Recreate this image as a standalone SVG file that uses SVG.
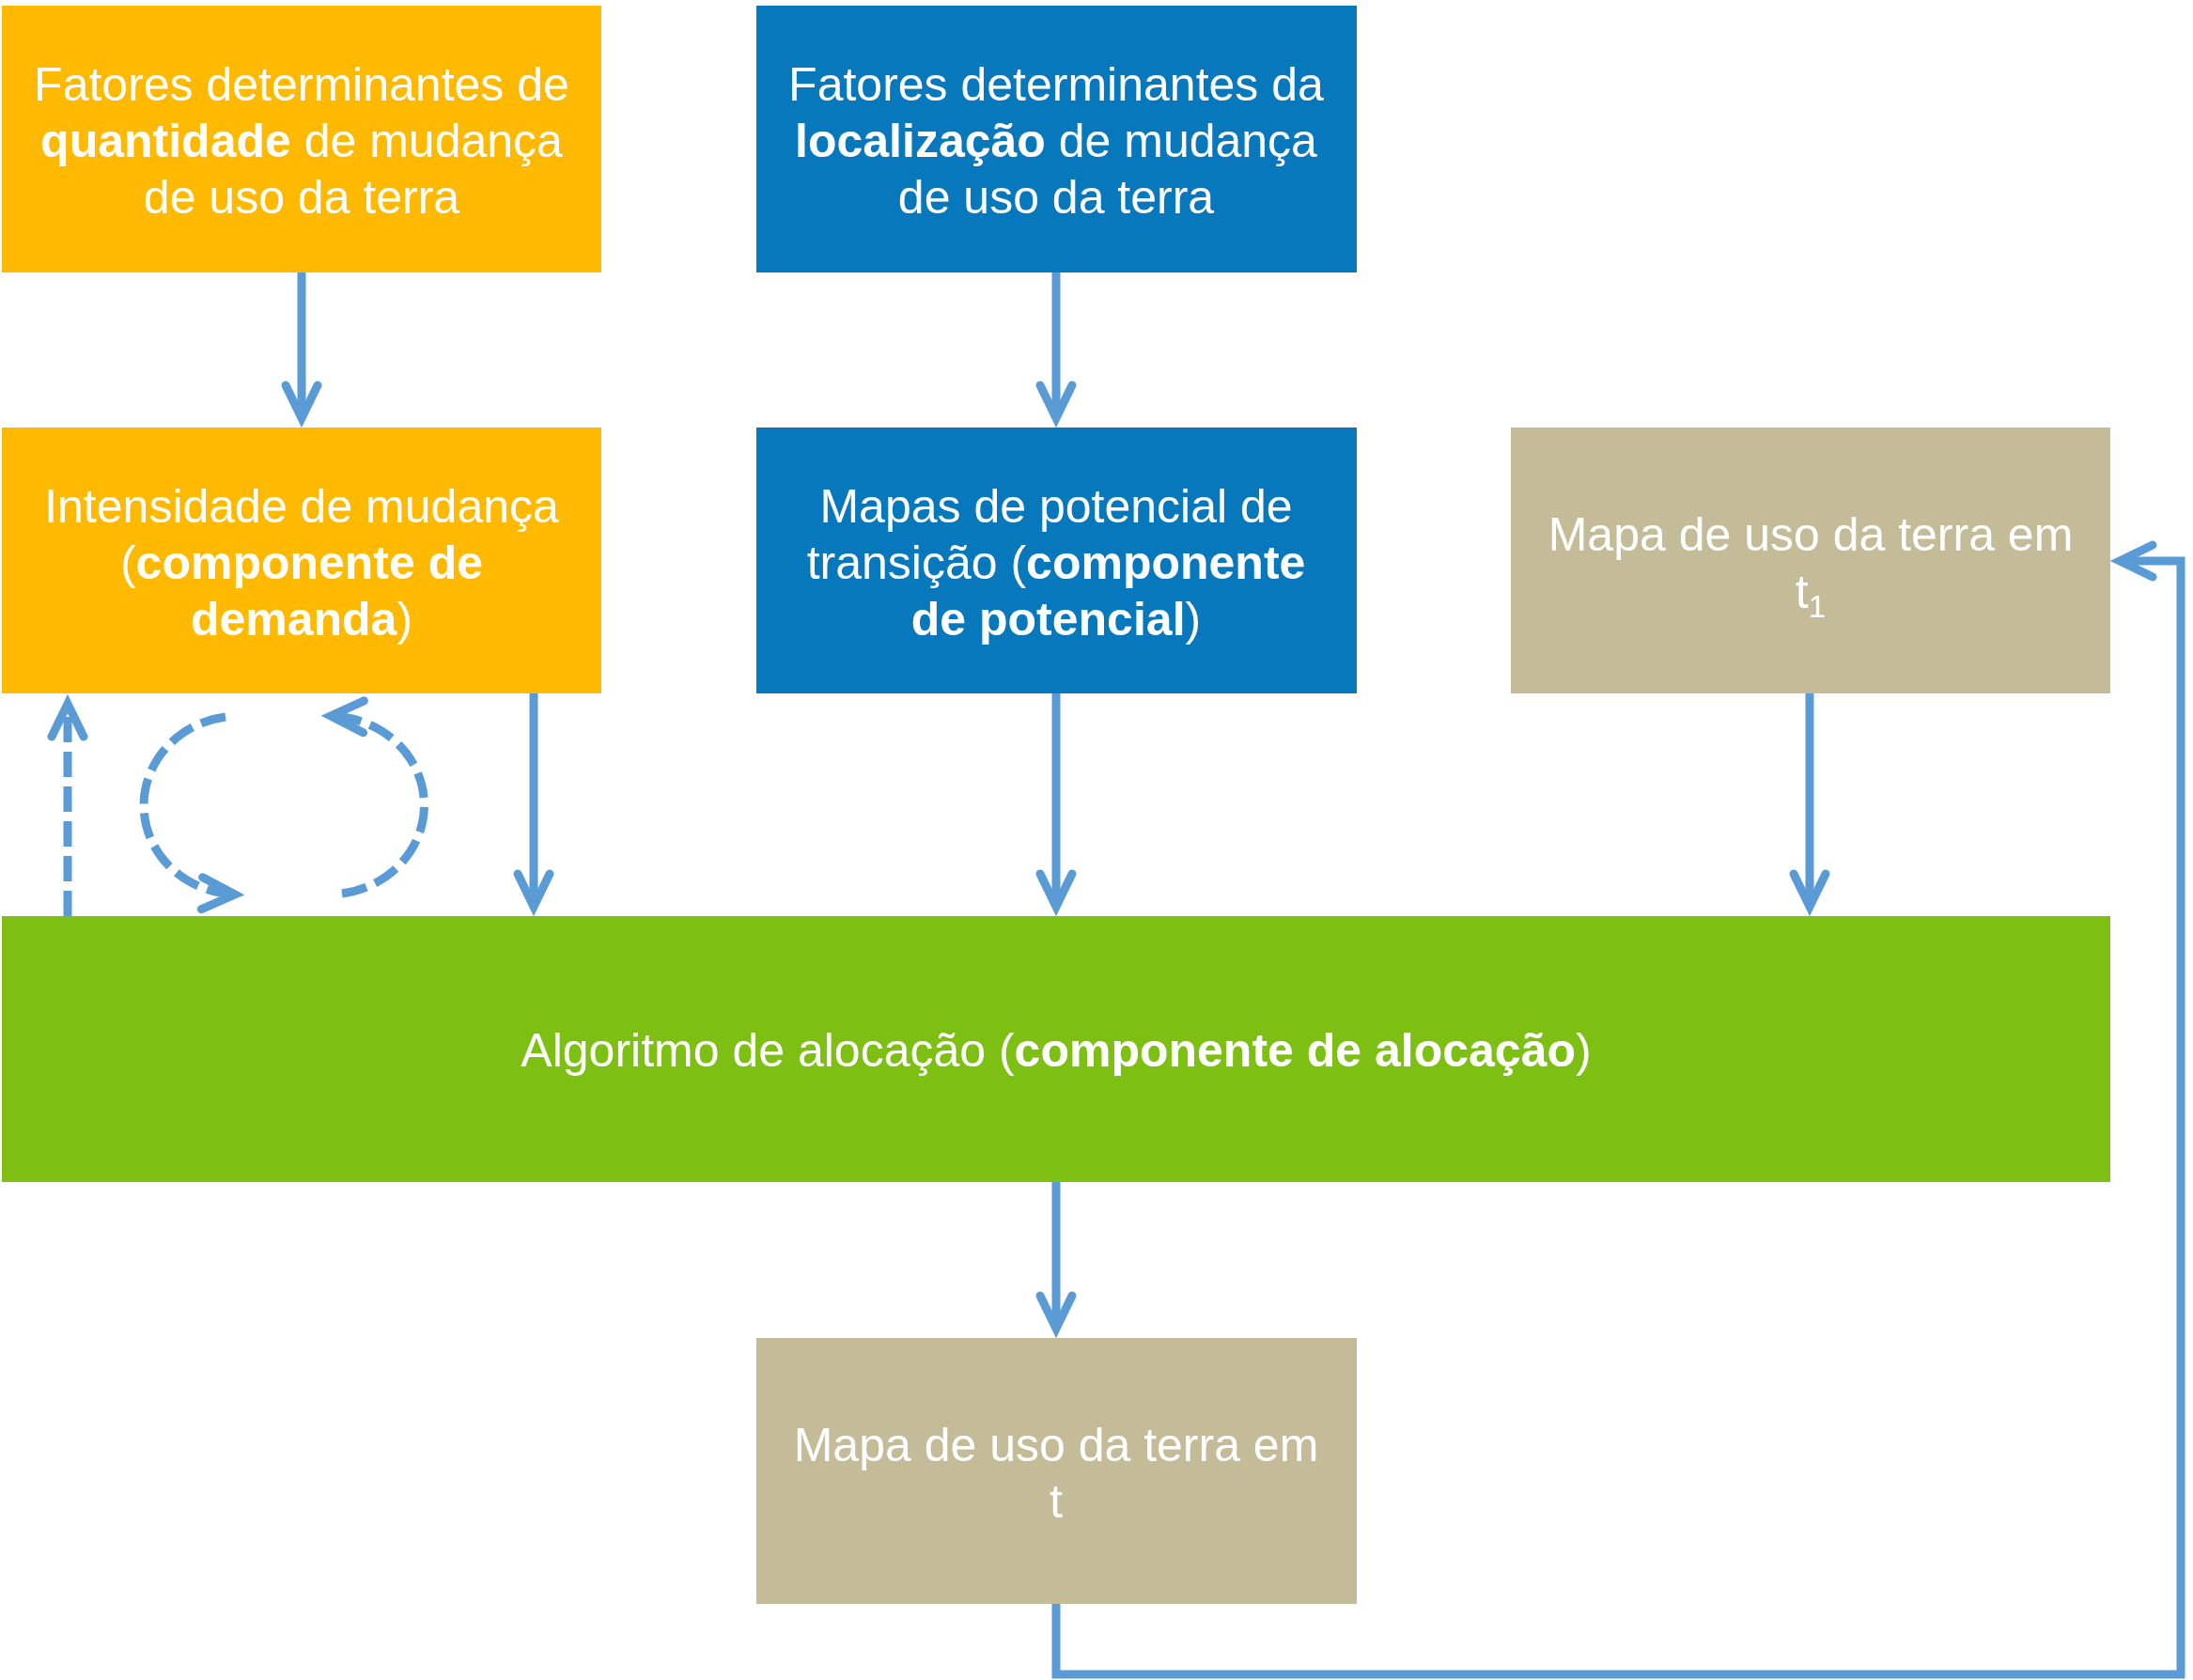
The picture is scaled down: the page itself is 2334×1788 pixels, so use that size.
<svg xmlns="http://www.w3.org/2000/svg" width="2334" height="1788" viewBox="0 0 2334 1788">
<style>
.t{font-family:"Liberation Sans",Arial,sans-serif;font-size:50px;fill:#FFFFFF;text-anchor:middle}
.b{font-weight:bold}
.yel{fill:#FFB900}
.blu{fill:#0878BC}
.tan{fill:#C4BC98}
.grn{fill:#7DC013}
.c{fill:none;stroke:#5B9BD5;stroke-width:9;marker-end:url(#ah)}
.d{stroke-dasharray:27 10}
</style>
<defs>
<marker id="ah" markerUnits="userSpaceOnUse" orient="auto" refX="0" refY="0" markerWidth="80" markerHeight="80" viewBox="-45 -40 80 80" overflow="visible">
<path d="M -35 -17 L 0 0 L -35 17" fill="none" stroke="#5B9BD5" stroke-width="9" stroke-linecap="round" stroke-linejoin="miter" stroke-miterlimit="10"/>
</marker>
</defs>
<rect width="2334" height="1788" fill="#FFFFFF"/>
<g id="connectors">
<path class="c" d="M321 290 V445"/>
<path class="c" d="M1124 290 V445"/>
<path class="c" d="M568 738 V965"/>
<path class="c" d="M1124 738 V965"/>
<path class="c" d="M1926 738 V965"/>
<path class="c" d="M1124 1258 V1414"/>
<path class="c" d="M1124 1707 V1782 H2321 V597 H2256"/>
<path class="c d" d="M72 975 V749"/>
<path class="c d" d="M240 763 A101 95 0 0 0 250 952"/>
<path class="c d" d="M364 951 A102 95 0 0 0 352 762"/>
</g>
<g id="n1">
<rect class="yel" x="2" y="6" width="638" height="284"/>
<text class="t" x="321" y="107">Fatores determinantes de</text>
<text class="t" x="321" y="167"><tspan class="b">quantidade</tspan> de mudança</text>
<text class="t" x="321" y="227">de uso da terra</text>
</g>
<g id="n2">
<rect class="blu" x="805" y="6" width="639" height="284"/>
<text class="t" x="1124" y="107">Fatores determinantes da</text>
<text class="t" x="1124" y="167"><tspan class="b">localização</tspan> de mudança</text>
<text class="t" x="1124" y="227">de uso da terra</text>
</g>
<g id="n3">
<rect class="yel" x="2" y="455" width="638" height="283"/>
<text class="t" x="321" y="556">Intensidade de mudança</text>
<text class="t" x="321" y="616">(<tspan class="b">componente de</tspan></text>
<text class="t" x="321" y="676"><tspan class="b">demanda</tspan>)</text>
</g>
<g id="n4">
<rect class="blu" x="805" y="455" width="639" height="283"/>
<text class="t" x="1124" y="556">Mapas de potencial de</text>
<text class="t" x="1124" y="616">transição (<tspan class="b">componente</tspan></text>
<text class="t" x="1124" y="676"><tspan class="b">de potencial</tspan>)</text>
</g>
<g id="n5">
<rect class="tan" x="1608" y="455" width="638" height="283"/>
<text class="t" x="1927" y="586">Mapa de uso da terra em</text>
<text class="t" x="1927" y="647">t<tspan font-size="33" dy="10">1</tspan></text>
</g>
<g id="n6">
<rect class="grn" x="2" y="975" width="2244" height="283"/>
<text class="t" x="1124" y="1135">Algoritmo de alocação (<tspan class="b">componente de alocação</tspan>)</text>
</g>
<g id="n7">
<rect class="tan" x="805" y="1424" width="639" height="283"/>
<text class="t" x="1124" y="1555">Mapa de uso da terra em</text>
<text class="t" x="1124" y="1615">t</text>
</g>
</svg>
